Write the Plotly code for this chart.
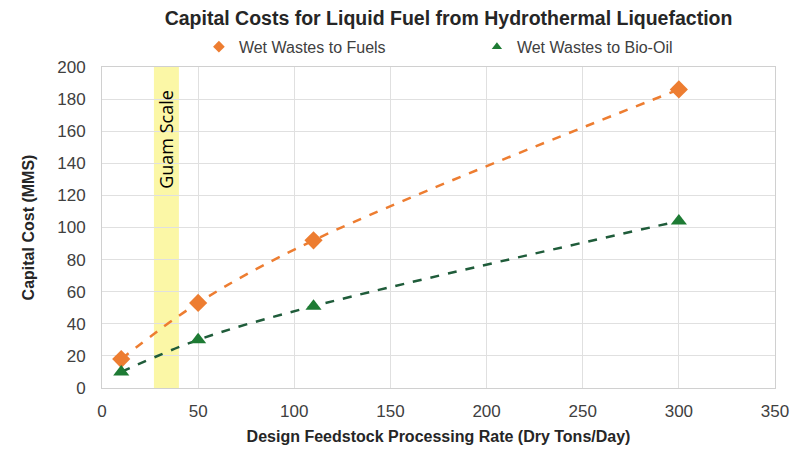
import plotly.graph_objects as go

# data
rate = [10, 50, 110, 300]
fuels_cost = [18, 53, 92, 186]
biooil_cost = [10, 30, 51, 104]
guam_band = [27, 40]

orange = '#ED7D31'
green = '#1E7B34'
dark_green = '#1F5C3A'
sans = 'Liberation Sans, Arial, sans-serif'

fig = go.Figure()

# Guam scale band
fig.add_shape(type='rect', xref='x', yref='y', x0=guam_band[0], x1=guam_band[1], y0=0, y1=200,
              fillcolor='#FBF7A6', line_width=0, layer='below')
fig.add_annotation(x=sum(guam_band) / 2, y=187, xref='x', yref='y', text='Guam Scale', textangle=-90,
                   showarrow=False, yanchor='top', font=dict(family='Open Sans', size=18, color='black'))

# dashed trend lines
fig.add_trace(go.Scatter(x=rate, y=fuels_cost, mode='lines', line=dict(color=orange, width=2.5, dash='dash', shape='spline'),
                         showlegend=False, hoverinfo='skip'))
fig.add_trace(go.Scatter(x=rate, y=biooil_cost, mode='lines', line=dict(color=dark_green, width=2.5, dash='dash', shape='spline'),
                         showlegend=False, hoverinfo='skip'))

# data points
fig.add_trace(go.Scatter(x=rate, y=fuels_cost, mode='markers', showlegend=False,
                         marker=dict(symbol='diamond', size=14, color=orange)))
fig.add_trace(go.Scatter(x=rate, y=biooil_cost, mode='markers', showlegend=False,
                         marker=dict(symbol='triangle-up', size=14, color=green)))

# legend entries (smaller markers than the plot)
fig.add_trace(go.Scatter(x=[None], y=[None], mode='markers', name='Wet Wastes to Fuels',
                         marker=dict(symbol='diamond', size=9, color=orange)))
fig.add_trace(go.Scatter(x=[None], y=[None], mode='markers', name='Wet Wastes to Bio-Oil',
                         marker=dict(symbol='triangle-up', size=9, color=green)))

fig.update_layout(
    width=801, height=457,
    margin=dict(l=94, r=34, t=59, b=77),
    paper_bgcolor='white', plot_bgcolor='white',
    title=dict(text='<b>Capital Costs for Liquid Fuel from Hydrothermal Liquefaction</b>',
               x=0.55, xanchor='center', y=0.978, yanchor='middle',
               font=dict(family=sans, size=19.5, color='#262626')),
    legend=dict(orientation='h', x=0.144, xanchor='left', y=1.063, yanchor='middle',
                entrywidth=233, entrywidthmode='pixels',
                font=dict(family=sans, size=16, color='#404040')),
    xaxis=dict(range=[0, 350], dtick=50, showgrid=True, gridcolor='#E0E0E0', zeroline=False,
               showline=True, linecolor='#D0D0D0', mirror=True, ticklabelstandoff=8,
               tickfont=dict(family=sans, size=17, color='#404040'),
               title=dict(text='<b>Design Feedstock Processing Rate (Dry Tons/Day)</b>', standoff=10,
                          font=dict(family=sans, size=16, color='#262626'))),
    yaxis=dict(range=[0, 200], dtick=20, showgrid=True, gridcolor='#E0E0E0', zeroline=False,
               showline=True, linecolor='#D0D0D0', mirror=True,
               ticks='outside', ticklen=12, tickcolor='rgba(0,0,0,0)',
               tickfont=dict(family=sans, size=17, color='#404040'),
               title=dict(text='<b>Capital Cost (MMS)</b>', standoff=18,
                          font=dict(family=sans, size=16, color='#262626'))),
)

fig.write_html('out.html')
